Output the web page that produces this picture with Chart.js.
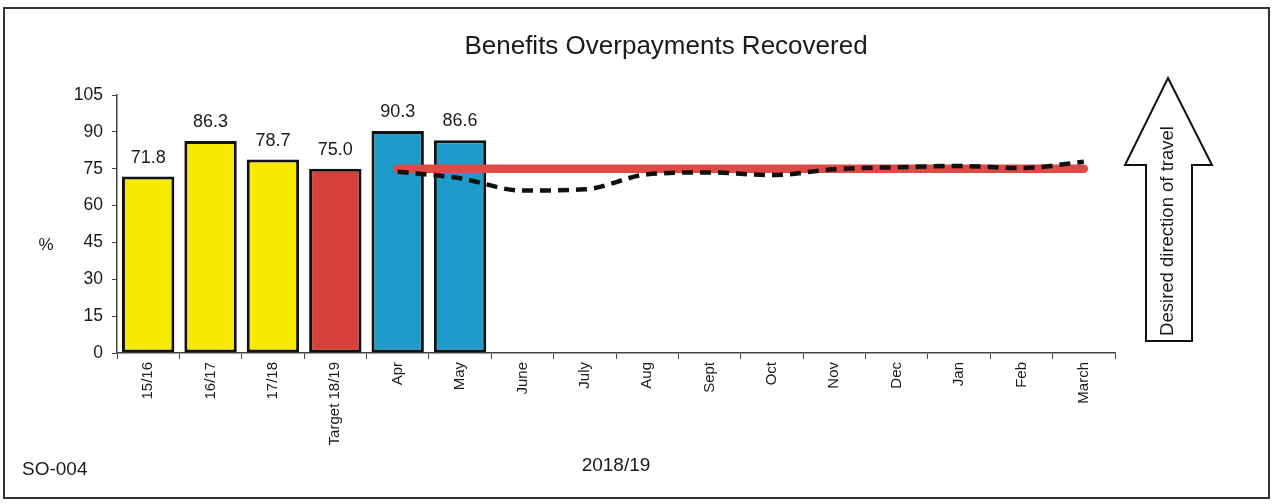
<!DOCTYPE html>
<html><head><meta charset="utf-8">
<script src="https://cdn.jsdelivr.net/npm/chart.js@4.4.0/dist/chart.umd.min.js"></script>
<style>html,body{margin:0;padding:0;background:#fff;}#wrap{width:1274px;height:504px;position:relative;}</style>
</head><body><div id="wrap"><canvas id="c" width="1274" height="504"></canvas></div>
<script>
const categories = ['15/16','16/17','17/18','Target 18/19','Apr','May','June','July','Aug','Sept','Oct','Nov','Dec','Jan','Feb','March'];
const barValues = [71.8, 86.3, 78.7, 75.0, 90.3, 86.6, null, null, null, null, null, null, null, null, null, null];
const barLabels = ['71.8','86.3','78.7','75.0','90.3','86.6'];
const barColors = ['#f5ea00','#f5ea00','#f5ea00','#d8403a','#1f9bca','#1f9bca','#fff','#fff','#fff','#fff','#fff','#fff','#fff','#fff','#fff','#fff'];
const targetValues = [null, null, null, null, 75, 75, 75, 75, 75, 75, 75, 75, 75, 75, 75, 75];
const trendValues = [null, null, null, null, 73.8, 71.1, 66.1, 66.6, 72.7, 73.5, 72.4, 74.8, 75.6, 76.1, 75.3, 77.8];
const yMin = 0, yMax = 105, yStep = 15;
const titleText = 'Benefits Overpayments Recovered';

const FONT = "'Liberation Sans', Arial, sans-serif";
const PAD_LEFT = 20;

const decor = {
  id: 'decor',
  beforeDraw(chart) {
    const ctx = chart.ctx;
    ctx.save();
    ctx.fillStyle = '#fff';
    ctx.fillRect(0, 0, chart.width, chart.height);
    ctx.restore();
  },
  afterDatasetsDraw(chart) {
    const ctx = chart.ctx;
    const meta = chart.getDatasetMeta(2);
    ctx.save();
    ctx.fillStyle = '#1a1a1a';
    ctx.font = '18px ' + FONT;
    ctx.textAlign = 'center';
    ctx.textBaseline = 'alphabetic';
    barLabels.forEach((t, i) => {
      const el = meta.data[i];
      if (!el) return;
      ctx.fillText(t, el.x, el.y - 14);
    });
    ctx.restore();
  },
  afterDraw(chart) {
    const ctx = chart.ctx;
    ctx.save();
    // frame
    ctx.strokeStyle = '#333';
    ctx.lineWidth = 2;
    ctx.strokeRect(4, 8, 1265, 490);
    ctx.fillStyle = '#1a1a1a';
    // title
    ctx.font = '26px ' + FONT;
    ctx.textAlign = 'center';
    ctx.textBaseline = 'middle';
    ctx.fillText(titleText, 666, 47);
    // % label
    ctx.font = '17px ' + FONT;
    ctx.fillText('%', 46, 245);
    // SO-004
    ctx.font = '19px ' + FONT;
    ctx.textAlign = 'left';
    ctx.fillText('SO-004', 22, 470);
    // arrow
    ctx.beginPath();
    ctx.moveTo(1168, 78);
    ctx.lineTo(1212, 165);
    ctx.lineTo(1192, 165);
    ctx.lineTo(1192, 341);
    ctx.lineTo(1146, 341);
    ctx.lineTo(1146, 165);
    ctx.lineTo(1125, 165);
    ctx.closePath();
    ctx.fillStyle = '#fff';
    ctx.fill();
    ctx.strokeStyle = '#111';
    ctx.lineWidth = 2;
    ctx.stroke();
    ctx.translate(1168, 231);
    ctx.rotate(-Math.PI / 2);
    ctx.fillStyle = '#1a1a1a';
    ctx.font = '18.5px ' + FONT;
    ctx.textAlign = 'center';
    ctx.textBaseline = 'middle';
    ctx.fillText('Desired direction of travel', 0, 0);
    ctx.restore();
  }
};

new Chart(document.getElementById('c'), {
  type: 'bar',
  data: {
    labels: categories,
    datasets: [
      {
        type: 'line', label: 'Trend', data: trendValues, order: 0,
        borderColor: '#111', borderWidth: 4.5, borderDash: [11, 7],
        tension: 0.4, cubicInterpolationMode: 'monotone', pointRadius: 0, fill: false, spanGaps: false
      },
      {
        type: 'line', label: 'Target', data: targetValues, order: 1,
        borderColor: '#df4a44', borderWidth: 8.5, borderCapStyle: 'round', pointRadius: 0, fill: false
      },
      {
        type: 'bar', label: 'Actual', data: barValues, order: 2,
        backgroundColor: barColors, borderColor: '#111', borderWidth: 3, borderSkipped: false,
        barPercentage: 0.84, categoryPercentage: 1.0
      }
    ]
  },
  options: {
    responsive: false,
    devicePixelRatio: 1,
    animation: false,
    layout: { padding: { left: PAD_LEFT, right: 159, top: 95, bottom: 0 } },
    plugins: {
      legend: { display: false },
      tooltip: { enabled: false },
      title: { display: false }
    },
    scales: {
      x: {
        offset: true,
        grid: { display: true, drawOnChartArea: false, tickLength: 6, color: '#444', offset: true },
        border: { display: true, color: '#444', width: 1.5 },
        ticks: { minRotation: 90, maxRotation: 90, autoSkip: false, color: '#1a1a1a', padding: 3, font: { family: FONT, size: 15 } },
        title: { display: true, text: '2018/19', color: '#1a1a1a', font: { family: FONT, size: 19 }, padding: { top: 27, bottom: 27 } },
        afterFit(scale) { scale.height = 151; }
      },
      y: {
        min: yMin, max: yMax,
        grid: { display: true, drawOnChartArea: false, tickLength: 5, color: '#444' },
        border: { display: true, color: '#444', width: 1.5 },
        ticks: { stepSize: yStep, color: '#1a1a1a', padding: 9, font: { family: FONT, size: 17.5 } },
        afterFit(scale) { scale.width = 117 - PAD_LEFT; }
      }
    }
  },
  plugins: [decor]
});
</script>
</body></html>
